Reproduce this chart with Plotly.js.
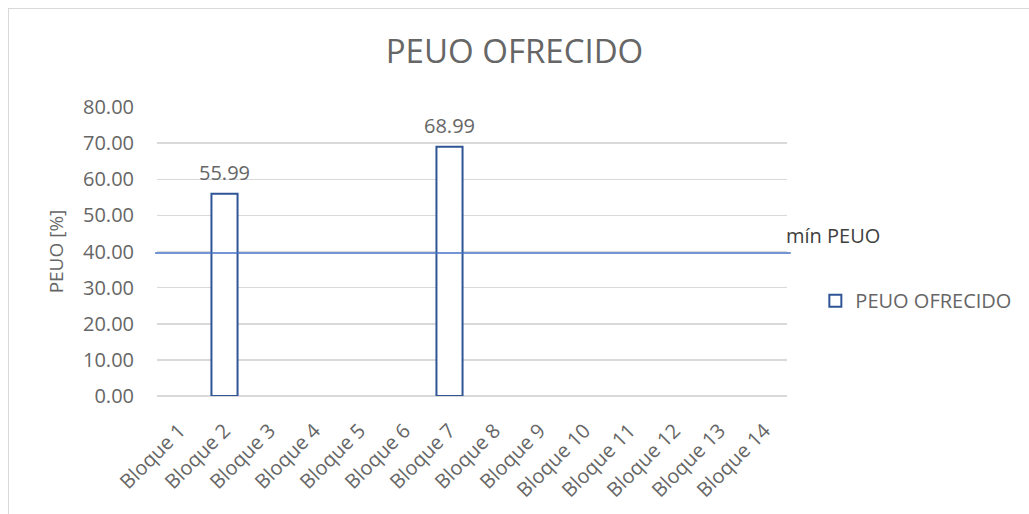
<!DOCTYPE html>
<html>
<head>
<meta charset="utf-8">
<script src="https://cdn.plot.ly/plotly-3.0.1.min.js"></script>
<style>
  html, body { margin:0; padding:0; overflow:hidden; background:#fff; }
  #wrap { position:relative; width:1029px; height:514px; }
  #chart { position:absolute; left:0; top:0; width:1029px; height:514px; }
  #frame { position:absolute; left:8px; top:8px; width:1100px; height:600px; border:1.5px solid #d9d9d9; pointer-events:none; }
</style>
</head>
<body>
<div id="wrap">
  <div id="chart"></div>
  <div id="frame"></div>
</div>
<script>
const categories = ["Bloque 1","Bloque 2","Bloque 3","Bloque 4","Bloque 5","Bloque 6","Bloque 7","Bloque 8","Bloque 9","Bloque 10","Bloque 11","Bloque 12","Bloque 13","Bloque 14"];
const peuoOfrecido = [null, 55.99, null, null, null, null, 68.99, null, null, null, null, null, null, null];
const minPEUO = 39.6;
const yTicks = [0, 10, 20, 30, 40, 50, 60, 70, 80];

const FONT = "Open Sans, Noto Sans, sans-serif";
const GRAY = "#666666";

const traces = [{
  type: "bar",
  name: "PEUO OFRECIDO",
  x: categories,
  y: peuoOfrecido,
  marker: { color: "#ffffff", line: { color: "#2F5597", width: 2 } },
  hoverinfo: "x+y"
}];

const labelAnns = [];
categories.forEach((c, i) => {
  const v = peuoOfrecido[i];
  if (v !== null) {
    labelAnns.push({
      xref: "x", yref: "y", x: c, y: v,
      xanchor: "center", yanchor: "bottom", yshift: 6,
      text: v.toFixed(2), showarrow: false,
      font: { family: FONT, size: 20, color: GRAY }
    });
  }
});

const layout = {
  width: 1029, height: 514,
  margin: { l: 157, r: 242, t: 107, b: 118 },
  paper_bgcolor: "rgba(0,0,0,0)",
  plot_bgcolor: "rgba(0,0,0,0)",
  font: { family: FONT, color: GRAY, size: 20 },
  title: { text: "PEUO OFRECIDO", font: { family: FONT, size: 33, color: GRAY }, x: 0.5, xanchor: "center", y: 0.9, yanchor: "middle", yref: "container" },
  bargap: 0.42,
  showlegend: true,
  legend: { x: 1.045, xanchor: "left", y: 0.33, yanchor: "middle", font: { family: FONT, size: 20, color: GRAY }, bgcolor: "rgba(0,0,0,0)" },
  xaxis: {
    type: "category",
    tickangle: -45,
    tickfont: { family: FONT, size: 20, color: GRAY },
    showgrid: false, showline: false, zeroline: false,
    ticks: "", ticklabelstandoff: 18,
    fixedrange: true
  },
  yaxis: {
    range: [0, 80],
    tickvals: yTicks,
    tickformat: ".2f",
    tickfont: { family: FONT, size: 20, color: GRAY },
    showgrid: true, gridcolor: "#d9d9d9", gridwidth: 1.5,
    zeroline: true, zerolinecolor: "#d9d9d9", zerolinewidth: 1.5,
    showline: false, ticks: "", ticklabelstandoff: 22,
    title: { text: "PEUO [%]", font: { family: FONT, size: 19, color: GRAY }, standoff: 14 },
    fixedrange: true
  },
  shapes: [{
    type: "line", xref: "paper", yref: "y",
    x0: -0.003, x1: 1.006, y0: minPEUO, y1: minPEUO,
    line: { color: "#4472C4", width: 1.5 }
  }],
  annotations: labelAnns.concat([{
    xref: "paper", yref: "y", x: 1.073, y: minPEUO,
    xanchor: "center", yanchor: "bottom", yshift: 2,
    text: "mín PEUO", showarrow: false,
    font: { family: FONT, size: 20, color: "#404040" }
  }])
};

Plotly.newPlot("chart", traces, layout, { displayModeBar: false, staticPlot: true });
</script>
</body>
</html>
